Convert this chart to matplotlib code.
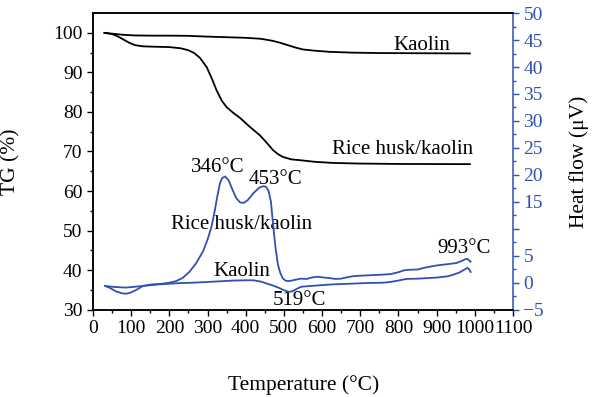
import matplotlib
matplotlib.use("Agg")
import matplotlib.pyplot as plt
from matplotlib.ticker import MultipleLocator, FixedLocator, FixedFormatter

plt.rcParams['font.family'] = ['Liberation Serif', 'DejaVu Serif']
plt.rcParams['mathtext.fontset'] = 'stix'

BLUE = '#3050b2'

# TG curves (Temperature °C, TG %)
kaolin_tg_T = [30, 50, 80, 110, 150, 200, 250, 300, 350, 400, 440, 470, 490, 510, 530, 550, 580, 620, 680, 750, 850, 987]
kaolin_tg = [100.0, 99.8, 99.5, 99.35, 99.3, 99.3, 99.25, 99.05, 98.9, 98.75, 98.5, 98.0, 97.5, 96.9, 96.3, 95.8, 95.5, 95.2, 95.0, 94.9, 94.85, 94.8]

rh_tg_T = [30, 50, 65, 80, 95, 110, 130, 160, 200, 230, 250, 265, 280, 298, 311, 324, 337, 350, 367, 385, 410, 437, 455, 472, 485, 498, 520, 542, 580, 629, 700, 800, 987]
rh_tg = [100.0, 99.7, 99.1, 98.3, 97.5, 96.9, 96.6, 96.5, 96.4, 96.1, 95.6, 94.9, 93.7, 91.3, 88.5, 85.4, 82.9, 81.2, 79.8, 78.5, 76.3, 74.1, 72.2, 70.3, 69.3, 68.6, 68.0, 67.8, 67.4, 67.1, 66.95, 66.85, 66.8]

# Heat flow curves (Temperature °C, µV)
rh_hf_T = [32, 45, 60, 75, 87, 100, 113, 131, 150, 180, 200, 218, 235, 253, 270, 288, 300, 310, 318, 325, 332, 338, 346, 355, 365, 375, 385, 395, 405, 420, 435, 446, 453, 460, 466, 472, 478, 484, 490, 497, 505, 515, 530, 545, 560, 575, 590, 605, 620, 635, 650, 665, 680, 700, 730, 760, 780, 800, 815, 830, 850, 870, 900, 930, 952, 966, 975, 981, 985, 989]
rh_hf = [-0.6, -1.0, -1.6, -1.95, -2.05, -1.8, -1.35, -0.6, -0.35, -0.2, 0.0, 0.3, 0.9, 2.05, 3.6, 5.8, 8.0, 10.3, 13.0, 15.8, 18.3, 19.4, 19.7, 19.0, 17.3, 15.7, 14.9, 14.8, 15.3, 16.6, 17.6, 17.9, 17.8, 17.0, 15.0, 10.5, 6.5, 3.5, 1.9, 0.8, 0.35, 0.3, 0.55, 0.75, 0.7, 1.0, 1.1, 0.95, 0.85, 0.7, 0.75, 1.0, 1.2, 1.3, 1.4, 1.5, 1.6, 1.95, 2.3, 2.4, 2.45, 2.8, 3.2, 3.45, 3.65, 4.05, 4.35, 4.4, 4.15, 3.9]

kaolin_hf_T = [32, 50, 70, 87, 110, 131, 175, 220, 260, 290, 330, 370, 400, 420, 440, 455, 470, 485, 500, 512, 522, 535, 545, 570, 600, 630, 670, 720, 760, 780, 800, 821, 850, 900, 930, 944, 960, 972, 981, 986, 989]
kaolin_hf = [-0.6, -0.75, -0.85, -0.9, -0.75, -0.6, -0.3, -0.1, 0.0, 0.1, 0.25, 0.4, 0.45, 0.45, 0.2, -0.15, -0.5, -0.9, -1.4, -1.7, -1.6, -1.1, -0.75, -0.6, -0.45, -0.3, -0.2, -0.05, 0.0, 0.15, 0.4, 0.7, 0.75, 0.95, 1.2, 1.5, 1.9, 2.4, 2.75, 2.4, 2.0]

hf_ticks = [-5, 0, 5, 10, 15, 20, 25, 30, 35, 40, 45, 50]
hf_labels = ['\u22125', '0', '5', '', '15', '20', '25', '30', '35', '40', '45', '50']

fig = plt.figure(figsize=(6, 3.97), dpi=100)
fig.subplots_adjust(left=0.155, right=0.855, top=0.967, bottom=0.22)
ax = fig.add_subplot(111)
ax2 = ax.twinx()

ax.plot(kaolin_tg_T, kaolin_tg, color='black', lw=1.3)
ax.plot(rh_tg_T, rh_tg, color='black', lw=1.3)
ax2.plot(rh_hf_T, rh_hf, color=BLUE, lw=1.3)
ax2.plot(kaolin_hf_T, kaolin_hf, color=BLUE, lw=1.3)

ax.set_xlim(0, 1100)
ax.set_ylim(30, 105)
ax2.set_ylim(-5, 50)

ax.xaxis.set_major_locator(MultipleLocator(100))
ax.xaxis.set_minor_locator(MultipleLocator(50))
ax.yaxis.set_major_locator(FixedLocator([30, 40, 50, 60, 70, 80, 90, 100]))
ax.yaxis.set_minor_locator(FixedLocator([35, 45, 55, 65, 75, 85, 95]))
ax2.yaxis.set_major_locator(FixedLocator(hf_ticks))
ax2.yaxis.set_major_formatter(FixedFormatter(hf_labels))
ax2.yaxis.set_minor_locator(MultipleLocator(2.5))

ax.tick_params(axis='both', which='major', direction='out', length=4.5, width=1, labelsize=14, pad=3)
ax.tick_params(axis='both', which='minor', direction='out', length=2.5, width=1)
ax2.tick_params(axis='y', which='major', direction='out', length=4.5, width=1, labelsize=14,
                colors=BLUE, pad=3)
ax2.tick_params(axis='y', which='minor', direction='out', length=2.5, width=1, colors=BLUE)

for s in ['left', 'bottom', 'top']:
    ax.spines[s].set_linewidth(1.1)
    ax2.spines[s].set_linewidth(1.1)
ax2.spines['right'].set_color(BLUE)
ax2.spines['right'].set_linewidth(1.1)
ax.spines['right'].set_visible(False)

ax.set_xlabel('Temperature (\u00b0C)', fontsize=15.5)
ax.xaxis.set_label_coords(0.502, -0.222)
ax.set_ylabel('TG (%)', fontsize=15.5)
ax.yaxis.set_label_coords(-0.172, 0.5)
ax2.set_ylabel('Heat flow (\u03bcV)', fontsize=15.5, color='black')
ax2.yaxis.set_label_coords(1.134, 0.5)

fs = 15
ax.text(861, 95.7, 'Kaolin', fontsize=fs, ha='center', va='baseline')
ax.text(810, 69.4, 'Rice husk/kaolin', fontsize=fs, ha='center', va='baseline')
ax.text(326, 64.8, '346\u00b0C', fontsize=fs, ha='center', va='baseline')
ax.text(477, 61.7, '453\u00b0C', fontsize=fs, ha='center', va='baseline')
ax.text(388, 50.4, 'Rice husk/kaolin', fontsize=fs, ha='center', va='baseline')
ax.text(389, 38.5, 'Kaolin', fontsize=fs, ha='center', va='baseline')
ax.text(540, 31.1, '519\u00b0C', fontsize=fs, ha='center', va='baseline')
ax.text(972, 44.4, '993\u00b0C', fontsize=fs, ha='center', va='baseline')

fig.savefig('out.png', dpi=100)
